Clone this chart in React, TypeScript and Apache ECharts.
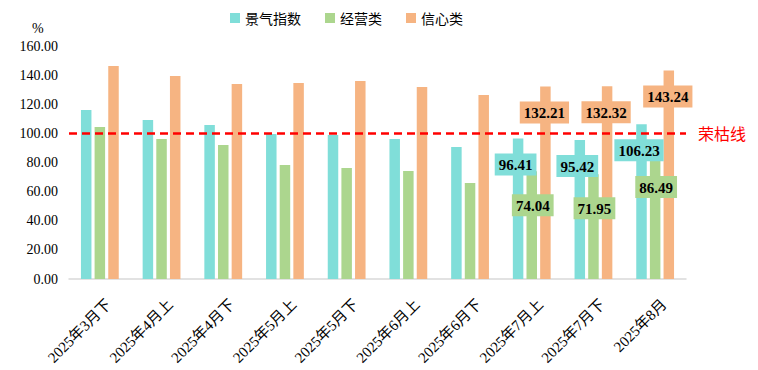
import React, { useEffect, useRef } from "react";
import * as echarts from "echarts";

const categories = [
  "2025年3月下", "2025年4月上", "2025年4月下", "2025年5月上", "2025年5月下",
  "2025年6月上", "2025年6月下", "2025年7月上", "2025年7月下", "2025年8月",
];
const jingqi = [116.05, 109.2, 105.75, 99.6, 98.9, 96.1, 90.6, 96.41, 95.42, 106.23];
const jingying = [104.4, 96.1, 92.0, 78.3, 76.2, 74.2, 65.9, 74.04, 71.95, 86.49];
const xinxin = [146.3, 139.4, 133.9, 134.6, 136.0, 131.8, 126.4, 132.21, 132.32, 143.24];
const seriesNames = ["景气指数", "经营类", "信心类"];
const yTicks = { min: 0, max: 160, interval: 20 };
const threshold = 100;
const thresholdName = "荣枯线";
const labeledFrom = 7;

const COLORS = ["#80DED9", "#ACD68E", "#F6B482"];

export default function App() {
  const ref = useRef<HTMLDivElement>(null);
  useEffect(() => {
    if (!ref.current) return;
    const chart = echarts.init(ref.current, undefined, { renderer: "svg" });
    const serif = "'Liberation Serif', 'Times New Roman', 'Noto Sans CJK SC', serif";
    const sans = "'Noto Sans CJK SC', 'Noto Sans', sans-serif";
    const labelDist = [15, 23, 15];
    const labelOffX = [-2.5, 1, -1];
    const mk = (vals: number[], idx: number) => ({
      name: seriesNames[idx],
      type: "bar",
      barWidth: 10.5,
      barGap: "30%",
      itemStyle: { color: COLORS[idx] },
      label: {
        show: false,
        position: "insideTop",
        distance: labelDist[idx],
        offset: [labelOffX[idx], 0],
        formatter: (p: any) => Number(p.value).toFixed(2),
        color: "#000",
        fontFamily: serif,
        fontWeight: "bold",
        fontSize: 15,
        lineHeight: 15,
        backgroundColor: COLORS[idx],
        padding: [4, 4, 3, 4],
      },
      data: vals.map((v, i) => (i >= labeledFrom ? { value: v, label: { show: true } } : v)),
      ...(idx === 0
        ? {
            markLine: {
              silent: true,
              symbol: "none",
              lineStyle: { color: "#FF0000", width: 2.5, type: [8, 5] },
              label: {
                show: true,
                position: "end",
                distance: 12,
                formatter: thresholdName,
                color: "#FF0000",
                fontSize: 16,
                fontFamily: sans,
              },
              data: [{ yAxis: threshold }],
            },
          }
        : {}),
    });
    chart.setOption({
      animation: false,
      grid: { left: 69, right: 72, top: 46, bottom: 91 },
      legend: {
        left: 225,
        top: 6,
        itemWidth: 10,
        itemHeight: 10,
        itemGap: 24,
        icon: "rect",
        textStyle: { fontSize: 14, color: "#000", fontFamily: sans },
        data: seriesNames,
      },
      graphic: [
        {
          type: "text",
          left: 32,
          top: 21,
          style: { text: "%", fontSize: 14, fontFamily: serif, fill: "#000" },
        },
      ],
      xAxis: {
        type: "category",
        data: categories,
        axisLine: { lineStyle: { color: "#D9D9D9", width: 1.5 } },
        axisTick: { show: false },
        axisLabel: {
          rotate: 45,
          interval: 0,
          margin: 14,
          verticalAlign: "top",
          padding: [5, 0, 0, 0],
          fontSize: 15,
          color: "#000",
          fontFamily: serif,
        },
      },
      yAxis: {
        type: "value",
        min: yTicks.min,
        max: yTicks.max,
        interval: yTicks.interval,
        axisLine: { show: false },
        axisTick: { show: false },
        splitLine: { show: false },
        axisLabel: {
          margin: 11,
          fontSize: 14,
          color: "#000",
          fontFamily: serif,
          formatter: (v: number) => v.toFixed(2),
        },
      },
      series: [mk(jingqi, 0), mk(jingying, 1), mk(xinxin, 2)],
    });
    return () => chart.dispose();
  }, []);
  return (
    <div
      ref={ref}
      style={{ position: "absolute", left: 0, top: 0, width: 758, height: 370, background: "#fff" }}
    />
  );
}
